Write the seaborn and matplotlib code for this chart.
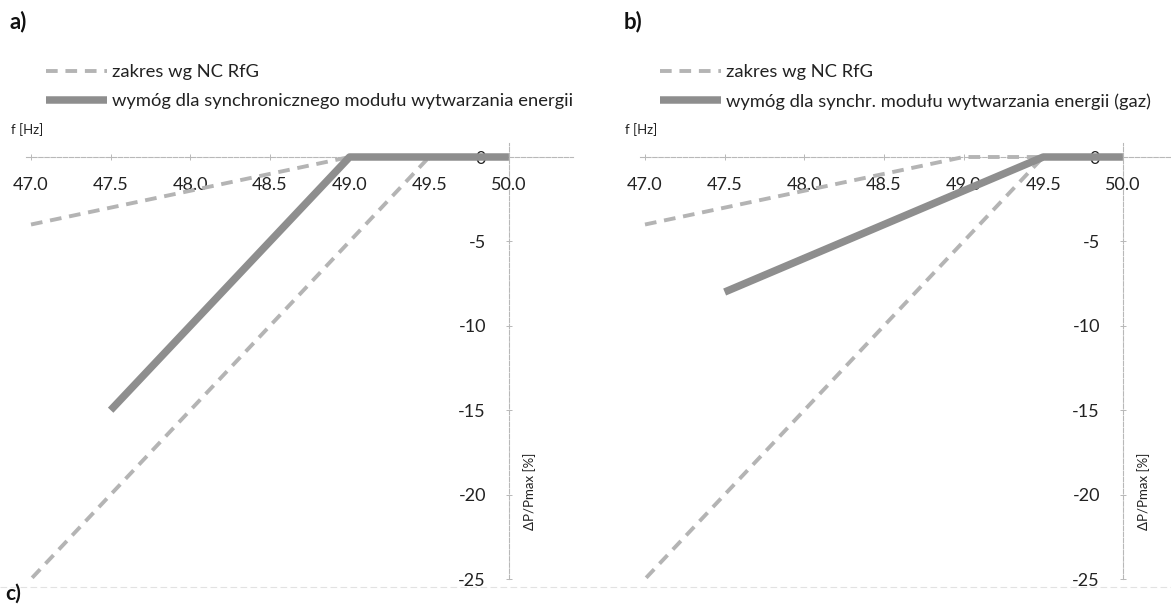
import numpy as np
import pandas as pd
import matplotlib
matplotlib.use("Agg")
import matplotlib.pyplot as plt
import seaborn as sns

# ---- data ----
range_f = [47.0, 49.0, 49.5, 47.0]          # zakres wg NC RfG (granice)
range_p = [-4.0, 0.0, 0.0, -25.0]
req_a_f = [47.5, 49.0, 50.0]                 # wymóg dla synchronicznego modułu
req_a_p = [-15.0, 0.0, 0.0]
req_b_f = [47.5, 49.5, 50.0]                 # wymóg dla synchr. modułu (gaz)
req_b_p = [-8.0, 0.0, 0.0]
x_ticks = [47.0, 47.5, 48.0, 48.5, 49.0, 49.5, 50.0]
y_ticks = [0, -5, -10, -15, -20, -25]
label_range = "zakres wg NC RfG"
label_a = "wymóg dla synchronicznego modułu wytwarzania energii"
label_b = "wymóg dla synchr. modułu wytwarzania energii (gaz)"

sns.set_theme(style="white")
plt.rcParams['font.family'] = ['Lato', 'DejaVu Sans']

W, H = 1171, 604
fig = plt.figure(figsize=(W / 100, H / 100), dpi=100)

DASH_COL = "#b4b4b4"
SOLID_COL = "#8e8e8e"
AX_COL = "#b8b8b8"


def px_axes(left, top, width, height):
    return fig.add_axes([left / W, 1 - (top + height) / H, width / W, height / H])


def panel(left_px, req_f, req_p, req_label, letter):
    xmin, xmax = 46.97, 50.4
    ymin, ymax = -25.0, 0.8
    pxu = 159.3
    pyu = 16.88
    y0 = 157
    ax = px_axes(left_px - (47.0 - xmin) * pxu, y0 - ymax * pyu,
                 (xmax - xmin) * pxu, (ymax - ymin) * pyu)
    df_r = pd.DataFrame({"f": range_f, "p": range_p})
    df_q = pd.DataFrame({"f": req_f, "p": req_p})
    sns.lineplot(data=df_r, x="f", y="p", sort=False, estimator=None, ax=ax,
                 color=DASH_COL, lw=2.8, linestyle=(0, (3.0, 2.0)),
                 label=label_range)
    sns.lineplot(data=df_q, x="f", y="p", sort=False, estimator=None, ax=ax,
                 color=SOLID_COL, lw=5.4, label=req_label)
    for ln in ax.get_lines():
        ln.set_clip_on(False)
        ln.set_solid_capstyle("butt")
    ax.set_xlim(xmin, xmax)
    ax.set_ylim(ymin, ymax)
    ax.set_xticks(x_ticks)
    ax.set_xticklabels([f"{v:.1f}" for v in x_ticks])
    ax.set_yticks(y_ticks)
    ax.set_yticklabels([str(v) for v in y_ticks])
    ax.spines["top"].set_visible(False)
    ax.spines["right"].set_visible(False)
    ax.spines["bottom"].set_position(("data", 0))
    ax.spines["left"].set_position(("data", 50))
    for s in ("bottom", "left"):
        ax.spines[s].set_color(AX_COL)
        ax.spines[s].set_linewidth(0.8)
        ax.spines[s].set_linestyle((0, (4, 1.5)))
        ax.spines[s].set_zorder(0.5)
    ax.tick_params(axis="both", which="both", direction="inout", length=5,
                   width=0.7, color=AX_COL, labelsize=13, labelcolor="#222222",
                   bottom=True, left=True)
    ax.tick_params(axis="x", pad=12)
    ax.tick_params(axis="y", pad=14)
    ax.set_xlabel("")
    ax.set_ylabel("")
    ax.set_facecolor("none")
    ax.patch.set_alpha(0)
    ax.grid(False)
    ax.text(50.13, -19.8, "ΔP/Pmax [%]", rotation=90, ha="center", va="center",
            fontsize=9.5, color="#222222")
    leg = ax.legend(loc="upper left", frameon=False, fontsize=13.2,
                    bbox_to_anchor=((left_px + 8) / W, 1 - 57 / H),
                    bbox_transform=fig.transFigure, handlelength=3.3,
                    handletextpad=0.3, labelspacing=0.7, borderaxespad=0)
    for t in leg.get_texts():
        t.set_color("#222222")
    fig.text((left_px - 20) / W, 1 - 130 / H, "f [Hz]", fontsize=9.5,
             color="#222222", va="center", ha="left")
    fig.text((left_px - 21) / W, 1 - 22 / H, letter, fontsize=16,
             fontweight="bold", va="center", ha="left", color="#111111")
    return ax


panel(31, req_a_f, req_a_p, label_a, "a)")
panel(645, req_b_f, req_b_p, label_b, "b)")

# separator and next panel label
fig.add_artist(plt.Line2D([0, 1], [1 - 587 / H] * 2, transform=fig.transFigure,
                          color="#e2e2e2", lw=0.8, linestyle=(0, (6, 3))))
fig.text(5 / W, 1 - 594 / H, "c)", fontsize=15, fontweight="bold",
         va="center", ha="left", color="#111111")

fig.savefig("out.png", dpi=100)
